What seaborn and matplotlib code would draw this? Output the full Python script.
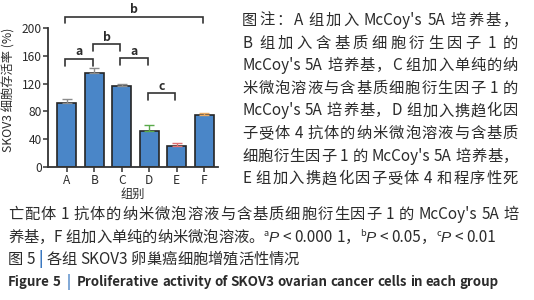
import matplotlib
matplotlib.use("Agg")
import matplotlib.pyplot as plt
import seaborn as sns
import pandas as pd

# ---------------- data ----------------
groups = ["A", "B", "C", "D", "E", "F"]
viability = [92, 135, 117, 51.5, 30, 74.5]
err_upper = [6, 7, 3, 8.5, 4, 3.5]
err_colors = ["#8c8c8c", "#8c8c8c", "#8c8c8c", "#5aaa4a", "#e07070", "#e8a860"]
y_ticks = [0, 40, 80, 120, 160, 200]
bracket_pairs = [("A", "F"), ("A", "B"), ("B", "C"), ("C", "D"), ("D", "E")]
bracket_labels = ["b", "a", "b", "a", "c"]
bracket_levels = [217, 156, 177, 157, 106]

y_label = "SKOV3 细胞存活率 (%)"
x_label = "组别"

caption_right = [
    "图注：A 组加入 McCoy's 5A 培养基，",
    "B 组加入含基质细胞衍生因子 1 的",
    "McCoy's 5A 培养基，C 组加入单纯的纳",
    "米微泡溶液与含基质细胞衍生因子 1 的",
    "McCoy's 5A 培养基，D 组加入携趋化因",
    "子受体 4 抗体的纳米微泡溶液与含基质",
    "细胞衍生因子 1 的 McCoy's 5A 培养基，",
    "E 组加入携趋化因子受体 4 和程序性死",
]
caption_full = "亡配体 1 抗体的纳米微泡溶液与含基质细胞衍生因子 1 的 McCoy's 5A 培"
caption_last = "养基，F 组加入单纯的纳米微泡溶液。"
p_marks = ["a", "b", "c"]
p_texts = [" < 0.000 1，", " < 0.05，", " < 0.01"]
title_cn = ["图 5 ", "|", " 各组 SKOV3 卵巢癌细胞增殖活性情况"]
title_en = ["Figure 5  ", "|", "  Proliferative activity of SKOV3 ovarian cancer cells in each group"]

# ---------------- style ----------------
sns.set_theme(style="ticks")
plt.rcParams["font.family"] = ["Noto Sans CJK SC", "DejaVu Sans"]
TXT = "#2b2b2b"
BLUE_BAR = "#4a86c8"

W, H = 534, 300
fig = plt.figure(figsize=(W / 100, H / 100), dpi=100)

ax_left, ax_right = 48.3, 218.0
ax_top, ax_bot = 28.3, 166.7
ax = fig.add_axes([ax_left / W, 1 - ax_bot / H, (ax_right - ax_left) / W, (ax_bot - ax_top) / H])

df = pd.DataFrame({"group": groups, "viability": viability})
sns.barplot(data=df, x="group", y="viability", color=BLUE_BAR, saturation=1,
            edgecolor="#252525", linewidth=1.2, width=0.7, errorbar=None, ax=ax)

for i, (v, e, c) in enumerate(zip(viability, err_upper, err_colors)):
    ax.errorbar(i, v, yerr=[[0], [e]], color=c, capsize=3.5, capthick=1.0,
                elinewidth=1.0, zorder=1)

ax.set_ylim(0, 200)
ax.set_xlim(-0.67, 5.5)
ax.set_yticks(y_ticks)
ax.set_ylabel("")
ax.set_xlabel("")
sns.despine(ax=ax)
for s in ["left", "bottom"]:
    ax.spines[s].set_color("#333333")
    ax.spines[s].set_linewidth(1.3)
ax.tick_params(axis="both", length=3.5, width=1.1, color="#333333",
               labelsize=8.6, labelcolor=TXT, pad=1.2)
ax.tick_params(axis="x", pad=2.0)

pos = {g: i for i, g in enumerate(groups)}
for (g1, g2), lab, lev in zip(bracket_pairs, bracket_labels, bracket_levels):
    x1, x2 = pos[g1] - 0.05, pos[g2] - 0.05
    ax.plot([x1, x1, x2, x2], [lev - 10, lev, lev, lev - 10], color="#333333",
            lw=1.2, clip_on=False, solid_joinstyle="miter")
    ax.text((x1 + x2) / 2, lev + 10, lab, ha="center", va="center",
            fontsize=8.8, color=TXT, fontweight="bold", clip_on=False)

fig.text(8.5 / W, 1 - 90 / H, y_label, rotation=90, ha="center", va="center",
         fontsize=8.8, color=TXT)
fig.text(133 / W, 1 - 194 / H, x_label, ha="center", va="center",
         fontsize=8.8, color=TXT)

# ---------------- caption layout ----------------
renderer = fig.canvas.get_renderer()


def measure(s, props):
    p = dict(props)
    p.pop("rise", None)
    t = fig.text(0, 0, s, **p)
    w = t.get_window_extent(renderer).width
    t.remove()
    return w


def tokenize(s, lead=""):
    toks, sep, buf = [], lead, ""
    for ch in s:
        if ch == " ":
            if buf:
                toks.append((sep, buf))
                buf, sep = "", ""
            sep += " "
        elif ord(ch) > 0x2E80:
            if buf:
                toks.append((sep, buf))
                buf, sep = "", ""
            toks.append((sep, ch))
            sep = ""
        else:
            buf += ch
    if buf:
        toks.append((sep, buf))
        sep = ""
    return toks, sep


def draw_line(segments, x0, y_center, x1=None):
    items = []
    carry = ""
    for s, props in segments:
        toks, carry = tokenize(s, carry)
        for sep, tok in toks:
            items.append((sep, tok, props))
    widths = [measure(t, p) for _, t, p in items]
    gaps = []
    for i in range(1, len(items)):
        _, tp, pp = items[i - 1]
        sc, tc, _ = items[i]
        g = measure(tp + sc + tc, pp) - widths[i - 1] - measure(tc, pp)
        gaps.append(g)
    natural = sum(widths) + sum(gaps)
    extra = 0.0
    if x1 is not None and gaps:
        last_tok, last_p = items[-1][1], items[-1][2]
        rs = measure(last_tok + "口", last_p) - widths[-1] - measure("口", last_p)
        x1_eff = x1 - rs + 1.0
        extra = (x1_eff - x0 - natural) / len(gaps)
    x = x0
    for i, (sep, tok, props) in enumerate(items):
        if i > 0:
            x += gaps[i - 1] + extra
        p = dict(props)
        rise = p.pop("rise", 0)
        fig.text(x / W, 1 - (y_center + 5 - rise) / H, tok, ha="left",
                 va="baseline", **p)
        x += widths[i]


FS = 11.0
base = dict(fontsize=FS, color=TXT)
sup = dict(fontsize=FS * 0.6, color=TXT, rise=5.5)
ital = dict(fontsize=FS, color=TXT, family=["Liberation Sans", "DejaVu Sans"],
            style="italic")

for k, line in enumerate(caption_right):
    draw_line([(line, base)], 242, 20 + 22.6 * k, 517)

draw_line([(caption_full, base)], 8, 214, 518)

segs = [(caption_last, base)]
for m, t in zip(p_marks, p_texts):
    segs += [(m, sup), ("P", ital), (t, base)]
draw_line(segs, 8, 237)

bar_blue = dict(fontsize=FS, color="#3a78c0", fontweight="bold")
tcn = dict(fontsize=FS, color=TXT)
draw_line([(title_cn[0], tcn), (title_cn[1], bar_blue), (title_cn[2], tcn)], 8, 259)
ten = dict(fontsize=9.6, color=TXT, fontweight="bold")
bar_blue2 = dict(bar_blue, fontsize=9.6)
draw_line([(title_en[0], ten), (title_en[1], bar_blue2), (title_en[2], ten)], 8, 281)

fig.savefig("out.png", dpi=100)
